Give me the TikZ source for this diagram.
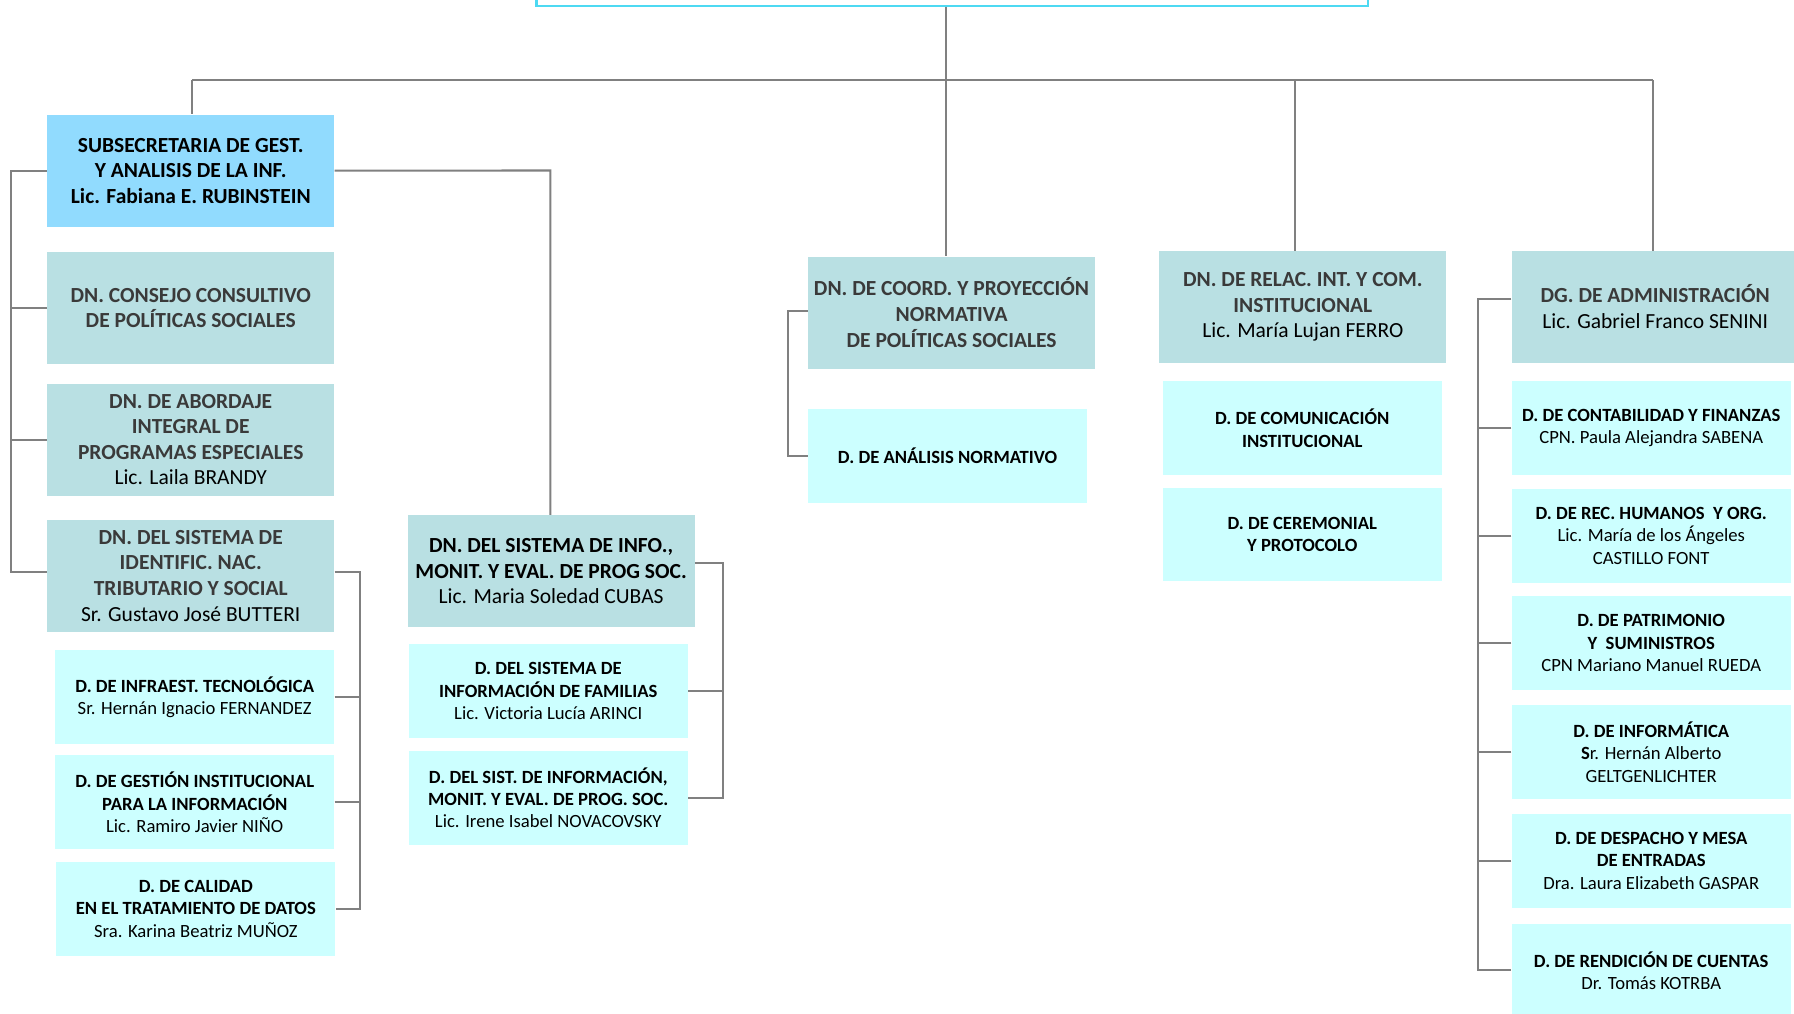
\documentclass[tikz,border=0pt]{standalone}
\usepackage{fontspec}
\setmainfont{Carlito}
\definecolor{subblue}{RGB}{145,219,254}
\definecolor{tealbg}{RGB}{185,224,227}
\definecolor{cyanbg}{RGB}{204,255,255}
\definecolor{topcyan}{RGB}{77,217,242}
\definecolor{conngrey}{RGB}{128,128,128}
\definecolor{darktxt}{RGB}{58,58,58}
\tikzset{
  box/.style={rectangle, inner sep=0pt, align=center, anchor=north west},
  subbox/.style={box, fill=subblue, text=black, minimum width=251pt, minimum height=98pt, font=\fontsize{18.8}{22.4}\selectfont\bfseries},
  dnbox/.style={box, fill=tealbg, text=black, minimum width=251pt, minimum height=98pt, font=\fontsize{18.8}{22.4}\selectfont},
  dbox/.style={box, fill=cyanbg, text=black, minimum width=244pt, minimum height=82pt, font=\fontsize{16.3}{19.6}\selectfont},
  conn/.style={draw=conngrey, line width=1.8pt},
}
\newcommand{\gt}[1]{\textcolor{darktxt}{\textbf{#1}}}
\begin{document}
\begin{tikzpicture}[x=1pt,y=-1pt]
\useasboundingbox (0,0) rectangle (1568,886);
\clip (0,0) rectangle (1568,886);
\fill[white] (0,0) rectangle (1568,886);

% top box (cut off)
\node[box, draw=topcyan, line width=1.8pt, fill=white, minimum width=727pt, minimum height=40pt] (topbox) at (468,-36) {};

% level 1
\node[subbox] (subsec) at (41,100) {SUBSECRETARIA DE GEST.\\ Y ANALISIS DE LA INF.\\ Lic. Fabiana E. RUBINSTEIN};
\node[dnbox] (coord) at (706,224) {\gt{DN. DE COORD. Y PROYECCIÓN}\\\gt{NORMATIVA}\\\gt{DE POLÍTICAS SOCIALES}};
\node[dnbox] (relac) at (1013,219) {\gt{DN. DE RELAC. INT. Y COM.}\\\gt{INSTITUCIONAL}\\Lic. María Lujan FERRO};
\node[dnbox] (admin) at (1321,219) {\gt{DG. DE ADMINISTRACIÓN}\\Lic. Gabriel Franco SENINI};

% left column
\node[dnbox] (consejo) at (41,220) {\gt{DN. CONSEJO CONSULTIVO}\\\gt{DE POLÍTICAS SOCIALES}};
\node[dnbox] (abordaje) at (41,335) {\gt{DN. DE ABORDAJE}\\\gt{INTEGRAL DE}\hspace*{5pt}\\\gt{PROGRAMAS ESPECIALES}\\Lic. Laila BRANDY};
\node[dnbox] (identif) at (41,454) {\gt{DN. DEL SISTEMA DE}\\\gt{IDENTIFIC. NAC.}\\\gt{TRIBUTARIO Y SOCIAL}\\Sr. Gustavo José BUTTERI};
\node[dbox] (infra) at (48,568) {\textbf{D. DE INFRAEST. TECNOLÓGICA}\\Sr. Hernán Ignacio FERNANDEZ};
\node[dbox] (gestion) at (48,660) {\textbf{D. DE GESTIÓN INSTITUCIONAL}\\\textbf{PARA LA INFORMACIÓN}\\Lic. Ramiro Javier NIÑO};
\node[dbox] (calidad) at (49,753) {\textbf{D. DE CALIDAD}\\\textbf{EN EL TRATAMIENTO DE DATOS}\\Sra. Karina Beatriz MUÑOZ};

% info column
\node[dnbox] (info) at (356,450) {\textbf{DN. DEL SISTEMA DE INFO.,}\\\textbf{MONIT. Y EVAL. DE PROG SOC.}\\Lic. Maria Soledad CUBAS};
\node[dbox] (familias) at (357,563) {\textbf{D. DEL SISTEMA DE}\\\textbf{INFORMACIÓN DE FAMILIAS}\\Lic. Victoria Lucía ARINCI};
\node[dbox] (monit) at (357,656) {\textbf{D. DEL SIST. DE INFORMACIÓN,}\\\textbf{MONIT. Y EVAL. DE PROG. SOC.}\\Lic. Irene Isabel NOVACOVSKY};

% coord children
\node[dbox] (analisis) at (706,357) {\textbf{D. DE ANÁLISIS NORMATIVO}};

% relac children
\node[dbox] (comunic) at (1016,333) {\textbf{D. DE COMUNICACIÓN}\\\textbf{INSTITUCIONAL}};
\node[dbox] (ceremon) at (1016,426) {\textbf{D. DE CEREMONIAL}\\\textbf{Y PROTOCOLO}};

% admin children
\node[dbox] (contab) at (1321,333) {\textbf{D. DE CONTABILIDAD Y FINANZAS}\\CPN. Paula Alejandra SABENA};
\node[dbox] (rrhh) at (1321,427) {\textbf{D. DE REC. HUMANOS\ \ Y ORG.}\\Lic. María de los Ángeles\\CASTILLO FONT};
\node[dbox] (patrim) at (1321,521) {\textbf{D. DE PATRIMONIO}\\\textbf{Y\ \ SUMINISTROS}\\CPN Mariano Manuel RUEDA};
\node[dbox] (informat) at (1321,616) {\textbf{D. DE INFORMÁTICA}\\\textbf{S}r. Hernán Alberto\\GELTGENLICHTER};
\node[dbox] (despacho) at (1321,711) {\textbf{D. DE DESPACHO Y MESA}\\\textbf{DE ENTRADAS}\\Dra. Laura Elizabeth GASPAR};
\node[dbox] (rendic) at (1321,807) {\textbf{D. DE RENDICIÓN DE CUENTAS}\\Dr. Tomás KOTRBA};

% coordinates
\coordinate (bus) at (827,70);
\coordinate (busL) at (168,70);
\coordinate (busR) at (1445,70);
\coordinate (busRel) at (1132,70);
\coordinate (lb) at (10,500);
\coordinate (ib) at (315,500);
\coordinate (sb) at (481,149);
\coordinate (nb) at (632,492);
\coordinate (cb) at (689,272);
\coordinate (ab) at (1292,261);

% top bus
\draw[conn] (topbox.south -| bus) -- (bus);
\draw[conn] (busL) -- (busR);
\draw[conn] (busL) -- (busL |- subsec.north);
\draw[conn] (bus) -- (bus |- coord.north);
\draw[conn] (busRel) -- (busRel |- relac.north);
\draw[conn] (busR) -- (busR |- admin.north);

% left bracket
\draw[conn] (subsec.west) -| (lb) -- (lb -| identif.west);
\draw[conn] (consejo.west) -- (consejo.west -| lb);
\draw[conn] (abordaje.west) -- (abordaje.west -| lb);

% identif bracket
\draw[conn] (identif.east |- ib) -- (ib) |- (calidad.east);
\draw[conn] (infra.east) -- (infra.east -| ib);
\draw[conn] (gestion.east) -- (gestion.east -| ib);

% subsec to info
\draw[conn] (subsec.east) -- (sb) -- (sb |- info.north);

% info bracket
\draw[conn] (info.east |- nb) -- (nb) |- (monit.east);
\draw[conn] (familias.east) -- (familias.east -| nb);

% coord bracket
\draw[conn] (coord.west |- cb) -- (cb) |- (analisis.west);

% admin bracket
\draw[conn] (admin.west |- ab) -- (ab) |- (rendic.west);
\draw[conn] (contab.west) -- (contab.west -| ab);
\draw[conn] (rrhh.west) -- (rrhh.west -| ab);
\draw[conn] (patrim.west) -- (patrim.west -| ab);
\draw[conn] (informat.west) -- (informat.west -| ab);
\draw[conn] (despacho.west) -- (despacho.west -| ab);
\end{tikzpicture}
\end{document}
